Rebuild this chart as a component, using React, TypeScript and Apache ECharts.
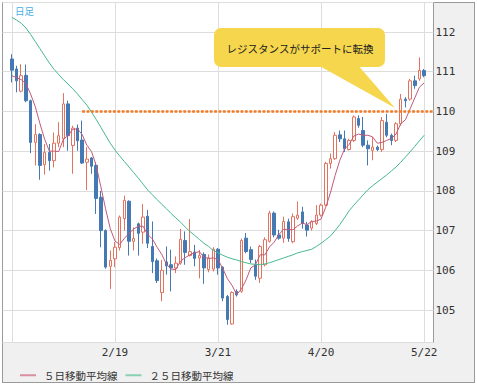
import React, { useEffect, useRef } from "react";
import * as echarts from "echarts";

// ---- data (USD/JPY daily) ----
const opens = [
  111.32, 111.07, 110.51, 110.91, 110.27, 109.22, 109.42, 108.66, 108.97, 108.76,
  109.2, 109.31, 110.19, 109.14, 109.58, 109.28, 108.72, 108.83, 108.64, 107.84,
  107.0, 106.1, 106.29, 106.57, 107.3, 107.74, 106.73, 107.17, 106.96, 107.36,
  106.6, 106.24, 105.44, 106.21, 106.14, 106.06, 106.18, 106.75, 106.37, 106.46,
  106.31, 106.4, 106.02, 106.03, 106.53, 106.08, 105.34, 104.65, 105.47, 105.47,
  106.81, 106.52, 106.14, 105.8, 106.14, 106.73, 107.44, 106.89, 106.81, 107.22,
  106.72, 107.31, 107.47, 107.14, 107.06, 107.18, 107.39, 107.64, 108.69, 108.81,
  109.41, 109.31, 109.04, 109.27, 109.82, 109.52, 109.15, 109.02, 109.1, 109.04,
  109.73, 109.4, 109.27, 109.69, 110.31, 110.31, 110.77, 110.82, 111.03,
];
const closes = [
  111.04, 110.77, 110.9, 110.27, 109.22, 109.42, 108.64, 108.97, 108.76, 109.2,
  109.39, 110.19, 109.39, 109.58, 109.26, 108.7, 108.8, 108.62, 107.81, 107.0,
  106.08, 106.25, 106.58, 107.34, 107.76, 106.73, 106.8, 106.93, 107.34, 106.68,
  106.22, 105.74, 106.0, 106.11, 106.06, 106.18, 106.78, 106.45, 106.47, 106.3,
  106.37, 106.06, 106.31, 106.53, 106.06, 105.3, 104.76, 105.44, 105.38, 106.75,
  106.47, 106.27, 105.85, 106.6, 106.77, 107.44, 106.89, 106.81, 107.23, 106.8,
  107.35, 107.39, 107.18, 107.01, 107.22, 107.39, 107.64, 108.69, 108.81, 109.4,
  109.31, 109.06, 109.27, 109.86, 109.65, 109.15, 109.06, 109.1, 109.04, 109.77,
  109.4, 109.27, 109.69, 110.31, 110.27, 110.77, 110.65, 111.03, 110.9,
];
const lows = [
  110.73, 110.48, 110.48, 110.23, 108.95, 108.64, 108.28, 108.41, 108.51, 108.59,
  109.1, 109.1, 109.01, 108.43, 109.01, 108.68, 108.02, 108.43, 107.42, 106.58,
  106.04, 105.53, 106.08, 106.5, 107.0, 106.37, 106.5, 106.37, 106.67, 106.56,
  105.93, 105.68, 105.22, 105.89, 105.47, 105.93, 106.14, 106.14, 106.35, 106.1,
  105.8, 105.66, 105.95, 105.97, 105.89, 105.22, 104.63, 104.63, 105.34, 105.43,
  106.43, 106.18, 105.76, 105.68, 106.1, 106.7, 106.83, 106.77, 106.69, 106.72,
  106.68, 107.27, 107.05, 106.85, 107.0, 107.14, 107.35, 107.62, 108.56, 108.78,
  109.23, 108.98, 109.02, 109.23, 109.59, 109.1, 108.64, 108.77, 109.0, 108.98,
  109.35, 109.15, 109.23, 109.64, 110.1, 110.27, 110.57, 110.77, 110.86,
];
const highs = [
  111.44, 111.15, 111.19, 111.18, 110.3, 109.68, 109.45, 109.18, 109.18, 109.47,
  109.73, 110.46, 110.27, 109.64, 109.67, 109.77, 109.1, 108.85, 108.72, 108.0,
  107.03, 106.5, 106.71, 107.38, 107.88, 107.76, 107.08, 107.2, 107.67, 107.52,
  107.23, 106.3, 106.26, 106.6, 106.52, 106.35, 107.04, 106.98, 107.29, 106.64,
  106.51, 106.45, 106.4, 106.58, 106.56, 106.1, 105.38, 105.47, 105.52, 106.8,
  106.94, 106.6, 106.27, 106.64, 106.83, 107.5, 107.48, 107.02, 107.35, 107.3,
  107.43, 107.73, 107.6, 107.22, 107.26, 107.64, 107.68, 108.73, 108.94, 109.48,
  109.52, 109.52, 109.31, 109.9, 109.9, 109.86, 109.27, 109.35, 109.14, 109.86,
  109.94, 109.44, 109.73, 110.44, 110.36, 110.82, 110.9, 111.36, 111.07,
];
const ma5 = [
  110.9, 110.85, 110.8, 110.7, 110.44, 110.12, 109.69, 109.3, 109.0, 109.0,
  108.99, 109.3, 109.39, 109.55, 109.56, 109.42, 109.15, 108.99, 108.64, 108.1,
  107.55, 107.05, 106.74, 106.65, 106.8, 106.93, 107.04, 107.11, 107.11, 106.9,
  106.79, 106.58, 106.4, 106.15, 106.03, 106.02, 106.23, 106.32, 106.39, 106.44,
  106.47, 106.33, 106.3, 106.31, 106.27, 106.05, 105.79, 105.62, 105.39, 105.53,
  105.76, 106.06, 106.14, 106.39, 106.39, 106.59, 106.71, 106.9, 107.03, 107.03,
  107.02, 107.12, 107.19, 107.15, 107.23, 107.24, 107.29, 107.59, 107.95, 108.39,
  108.77, 109.05, 109.17, 109.38, 109.43, 109.4, 109.4, 109.36, 109.2, 109.22,
  109.27, 109.32, 109.43, 109.69, 109.79, 110.06, 110.34, 110.61, 110.72,
];
const ma25 = [
  112.37, 112.3, 112.22, 112.1, 111.94, 111.76, 111.58, 111.4, 111.22, 111.06,
  110.93, 110.8, 110.69, 110.57, 110.44, 110.3, 110.16, 109.98, 109.8, 109.6,
  109.4, 109.2, 109.03, 108.88, 108.74, 108.6, 108.46, 108.32, 108.17, 108.02,
  107.9, 107.78, 107.66, 107.55, 107.43, 107.32, 107.21, 107.09, 106.98, 106.88,
  106.78, 106.68, 106.6, 106.5, 106.44, 106.38, 106.33, 106.29, 106.26, 106.22,
  106.19, 106.16, 106.15, 106.14, 106.16, 106.19, 106.23, 106.27, 106.31, 106.35,
  106.39, 106.44, 106.47, 106.5, 106.53, 106.6, 106.68, 106.77, 106.86, 107.0,
  107.15, 107.32, 107.5, 107.64, 107.77, 107.9, 108.03, 108.13, 108.22, 108.31,
  108.4, 108.5, 108.6, 108.72, 108.85, 108.98, 109.12, 109.26, 109.4,
];

// trading-day categories (weekdays from 2018-01-18)
function weekdayLabels(year: number, month: number, day: number, count: number): string[] {
  const out: string[] = [];
  const d = new Date(year, month, day);
  while (out.length < count) {
    const w = d.getDay();
    if (w !== 0 && w !== 6) out.push(`${d.getMonth() + 1}/${d.getDate()}`);
    d.setDate(d.getDate() + 1);
  }
  return out;
}
const dates = weekdayLabels(2018, 0, 18, 89);
const gridDates = ["1/18", "2/19", "3/21", "4/20", "5/22"];
const labelDates = ["2/19", "3/21", "4/20", "5/22"];
const resistanceLevel = 110;
const resistanceFrom = "2/8";
const calloutText = "レジスタンスがサポートに転換";
const periodText = "日足";
const ma5Name = "５日移動平均線";
const ma25Name = "２５日移動平均線";

const padStart = ["pre1", "pre2"];
const padEnd = ["post1", "post2"];

export default function App() {
  const ref = useRef<HTMLDivElement>(null);

  useEffect(() => {
    if (!ref.current) return;
    const chart = echarts.init(ref.current, undefined, { renderer: "svg" });
    const cats = [...padStart, ...dates, ...padEnd];
    const blank = (n: number) => Array.from({ length: n }, () => "-");
    const candle = [
      ...padStart.map(() => ["-", "-", "-", "-"]),
      ...dates.map((_, i) => [opens[i], closes[i], lows[i], highs[i]]),
      ...padEnd.map(() => ["-", "-", "-", "-"]),
    ];
    const pad = (arr: number[]) => [...blank(padStart.length), ...arr, ...blank(padEnd.length)];
    const mono = "DejaVu Sans Mono";
    const cjk = "'Noto Sans CJK JP', sans-serif";

    chart.setOption({
      animation: false,
      grid: {
        left: 2.5,
        top: 2.5,
        width: 431,
        height: 340,
        show: true,
        backgroundColor: "#ffffff",
        borderColor: "#9a9a9a",
        borderWidth: 1,
      },
      xAxis: {
        type: "category",
        data: cats,
        boundaryGap: false,
        axisLine: { show: false },
        axisTick: { show: false },
        axisLabel: {
          interval: (_i: number, v: string) => labelDates.includes(v),
          margin: 4,
          fontFamily: mono,
          fontSize: 11,
          color: "#333",
        },
        splitLine: {
          show: true,
          interval: (_i: number, v: string) => gridDates.includes(v),
          lineStyle: { color: "#dddddd", width: 1 },
        },
      },
      yAxis: {
        type: "value",
        position: "right",
        min: 104.182,
        max: 112.743,
        splitNumber: 8,
        minInterval: 1,
        maxInterval: 1,
        axisLine: { show: false },
        axisTick: { show: false },
        axisLabel: {
          showMinLabel: false,
          showMaxLabel: false,
          margin: 2,
          fontFamily: mono,
          fontSize: 11,
          color: "#333",
          formatter: (v: number) => (Math.abs(v - Math.round(v)) < 1e-6 ? String(Math.round(v)) : ""),
        },
        splitLine: { show: true, lineStyle: { color: "#dddddd", width: 1 } },
      },
      legend: {
        left: 15,
        top: 365,
        icon: "rect",
        itemWidth: 16,
        itemHeight: 2,
        itemGap: 8,
        textStyle: { fontSize: 10.5, color: "#333", fontFamily: cjk, padding: [0, 0, 0, 3] },
        data: [
          { name: ma5Name, itemStyle: { color: "#d8909f" } },
          { name: ma25Name, itemStyle: { color: "#88d0b0" } },
        ],
      },
      series: [
        {
          type: "candlestick",
          data: candle,
          barWidth: 3,
          z: 2,
          itemStyle: {
            color: "#ffffff",
            borderColor: "#e2735f",
            color0: "#4579b3",
            borderColor0: "#4579b3",
            borderWidth: 1,
          },
        },
        {
          name: ma5Name,
          type: "line",
          data: pad(ma5),
          symbol: "none",
          z: 3,
          lineStyle: { width: 1, color: "#c05a7a" },
          itemStyle: { color: "#c05a7a" },
          markLine: {
            silent: true,
            symbol: "none",
            label: { show: false },
            lineStyle: { color: "#f27a22", width: 2.5, type: [2.8, 1.6], cap: "butt" },
            data: [
              [
                { coord: [resistanceFrom, resistanceLevel] },
                { coord: [padEnd[padEnd.length - 1], resistanceLevel] },
              ],
            ],
          },
        },
        {
          name: ma25Name,
          type: "line",
          data: pad(ma25),
          symbol: "none",
          z: 3,
          lineStyle: { width: 1, color: "#45b98c" },
          itemStyle: { color: "#45b98c" },
        },
      ],
      graphic: [
        {
          type: "text",
          z: 100,
          x: 15,
          y: 11,
          style: {
            text: periodText,
            fill: "#44aee6",
            fontSize: 9.5,
            fontFamily: cjk,
            verticalAlign: "middle",
          },
        },
        {
          type: "polygon",
          z: 100,
          shape: { points: [[316, 64], [357, 64], [395, 108]] },
          style: { fill: "#f6d64c" },
        },
        {
          type: "rect",
          z: 100,
          shape: { x: 214, y: 28, width: 171, height: 39, r: 7 },
          style: { fill: "#f6d64c" },
        },
        {
          type: "text",
          z: 101,
          x: 300,
          y: 48,
          style: {
            text: calloutText,
            fill: "#222",
            fontSize: 10.5,
            fontFamily: cjk,
            align: "center",
            verticalAlign: "middle",
          },
        },
      ],
    });
    return () => chart.dispose();
  }, []);

  return (
    <div style={{ position: "absolute", left: 0, top: 0, width: 477, height: 385, background: "#fff" }}>
      <div
        style={{
          position: "absolute",
          left: 2,
          top: 2,
          width: 473,
          height: 381,
          boxSizing: "border-box",
          border: "1px solid #9a9a9a",
          background: "#f0f0f0",
        }}
      />
      <div ref={ref} style={{ position: "absolute", left: 0, top: 0, width: 477, height: 385 }} />
    </div>
  );
}
